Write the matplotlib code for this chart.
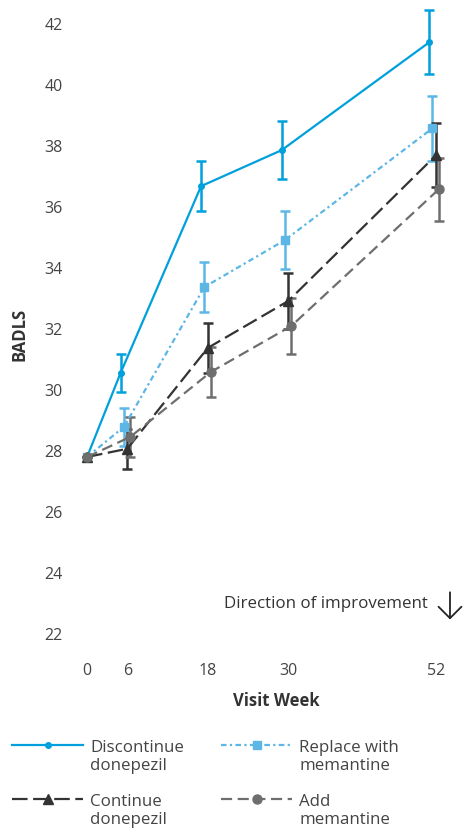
import numpy as np
import matplotlib.pyplot as plt
from matplotlib.legend_handler import HandlerLine2D

weeks = np.array([0, 6, 18, 30, 52])

discontinue = [27.8, 30.56, 36.69, 37.87, 41.41]
discontinue_err = [0, 0.63, 0.82, 0.95, 1.05]
replace = [27.8, 28.79, 33.38, 34.92, 38.59]
replace_err = [0, 0.62, 0.82, 0.95, 1.06]
cont = [27.8, 28.07, 31.38, 32.92, 37.7]
cont_err = [0, 0.66, 0.82, 0.92, 1.05]
add = [27.8, 28.46, 30.59, 32.1, 36.59]
add_err = [0, 0.65, 0.82, 0.92, 1.03]

plt.rcParams['font.family'] = ['Open Sans', 'DejaVu Sans']
txt = '#444444'

fig = plt.figure(figsize=(4.64, 8.32), dpi=100)
ax = fig.add_axes([75/464, 177/832, 385/464, 655/832])

# small horizontal offsets (not at baseline) so the error bars don't overlap
series = [
    (discontinue, discontinue_err, -1.0, '#00a0dc', '-', 'o', 4, 'Discontinue\ndonepezil'),
    (replace, replace_err, -0.5, '#5cb6e6', (0, (2.5, 1.5, 1, 1.5)), 's', 6, 'Replace with\nmemantine'),
    (cont, cont_err, 0.0, '#333333', (0, (7, 2.5)), '^', 6.5, 'Continue\ndonepezil'),
    (add, add_err, 0.45, '#6e6e6e', (0, (5, 2.5)), 'o', 6.5, 'Add\nmemantine'),
]

lines = {}
for vals, err, off, col, ls, mk, ms, lab in series:
    x = weeks + off * (weeks > 0)
    eb = ax.errorbar(x, vals, yerr=err, color=col, ls=ls, lw=1.6,
                     marker=mk, ms=ms, elinewidth=1.8, capsize=3.5, capthick=1.8,
                     label=lab)
    lines[lab] = eb[0]

ax.set_xlim(-1.8, 55.6)
ax.set_ylim(21.3, 42.8)
ax.set_xticks(weeks)
ax.set_yticks(np.arange(22, 43, 2))
ax.tick_params(length=0, labelsize=11.5, labelcolor=txt)
ax.tick_params(axis='y', pad=9)
ax.tick_params(axis='x', pad=6)
for s in ax.spines.values():
    s.set_visible(False)

ax.set_ylabel('BADLS', fontsize=12, fontweight='bold', color='#333333')
ax.yaxis.set_label_coords(-0.122, 0.49)
ax.set_xlabel('Visit Week', fontsize=12, fontweight='bold', color='#333333')
ax.xaxis.set_label_coords(0.522, -0.056)

ax.text(0.917, 0.078, 'Direction of improvement', transform=ax.transAxes,
        ha='right', va='center', fontsize=12.2, color='#333333')
ax.annotate('', xy=(0.974, 0.05), xytext=(0.974, 0.10), xycoords='axes fraction',
            arrowprops=dict(arrowstyle='->,head_length=0.55,head_width=0.55',
                            lw=1.3, color='#222222', mutation_scale=15))


class RaisedLine(HandlerLine2D):
    def create_artists(self, legend, orig_handle, xdescent, ydescent, width,
                       height, fontsize, trans):
        return super().create_artists(legend, orig_handle, xdescent,
                                      ydescent - 1.45 * fontsize, width, height,
                                      fontsize, trans)


order = ['Discontinue\ndonepezil', 'Continue\ndonepezil',
         'Replace with\nmemantine', 'Add\nmemantine']
leg = fig.legend([lines[k] for k in order], order, loc='upper left',
                 bbox_to_anchor=(0.026, 0.11), ncol=2, frameon=False,
                 fontsize=12.2, handlelength=4.2, handletextpad=0.4,
                 columnspacing=2.2, labelspacing=1.2, borderpad=0,
                 borderaxespad=0, numpoints=1,
                 handler_map={l: RaisedLine() for l in lines.values()})
for t in leg.get_texts():
    t.set_color(txt)
    t.set_linespacing(1.12)

fig.savefig('out.png', dpi=100)
